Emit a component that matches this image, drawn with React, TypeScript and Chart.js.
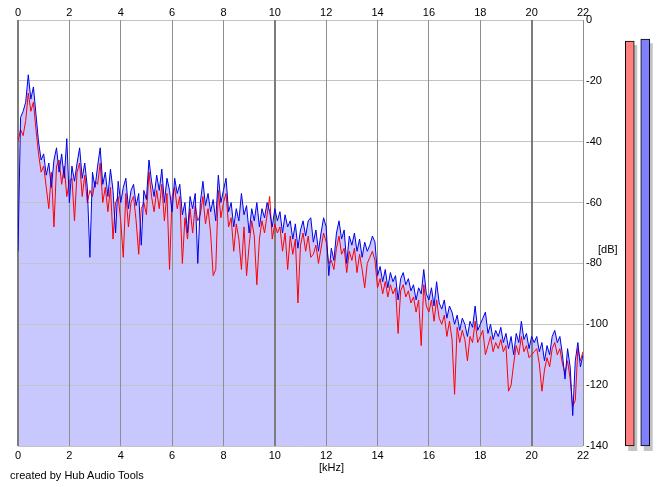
import React, { useEffect, useRef } from "react";
import { Chart, registerables } from "chart.js";

Chart.register(...registerables);

// ---- data ----
const FREQ_START_KHZ = 0;
const FREQ_STEP_KHZ = 0.1;

const xTickLabelsKHz = [0, 2, 4, 6, 8, 10, 12, 14, 16, 18, 20, 22];
const yTickLabelsDB = [0, -20, -40, -60, -80, -100, -120, -140];

// right channel (blue), dB, one value every 0.1 kHz from 0 to 22 kHz
const blueDB = [
  -76, -32, -30, -27, -18, -26, -22, -31, -40, -46,
  -44, -51, -47, -55, -46, -42, -50, -44, -52, -39,
  -60, -48, -53, -47, -42, -52, -47, -55, -78, -50,
  -55, -48, -42, -54, -50, -58, -49, -56, -70, -53,
  -60, -55, -52, -62, -56, -54, -61, -57, -74, -56,
  -59, -46, -53, -58, -51, -56, -49, -60, -52, -56,
  -63, -52, -57, -54, -64, -60, -70, -58, -62, -57,
  -80, -60, -53, -61, -57, -63, -59, -66, -51, -60,
  -56, -52, -63, -60, -68, -62, -66, -57, -64, -61,
  -70, -62, -66, -60, -68, -62, -65, -60, -63, -68,
  -62, -66, -63, -70, -64, -68, -66, -72, -67, -75,
  -69, -66, -71, -66, -65, -73, -69, -76, -70, -65,
  -68, -84, -75, -79, -70, -66, -72, -69, -80, -71,
  -74, -70, -76, -72, -78, -73, -76, -74, -71, -73,
  -84, -81, -86, -82, -88, -83, -86, -84, -92, -85,
  -83, -87, -85, -89, -87, -92, -88, -90, -82, -90,
  -92, -88, -94, -86, -93, -95, -92, -98, -94, -96,
  -100, -97, -102, -98, -100, -104, -99, -101, -94, -102,
  -100, -98, -96, -103, -100, -105, -102, -104, -101, -106,
  -103, -108, -104, -110, -103, -106, -99, -105, -103, -108,
  -104, -106, -104, -109, -106, -112, -107, -110, -104, -102,
  -106, -104, -110, -118, -108, -114, -130, -112, -106, -114,
  -110,
];

// left channel (red), dB, one value every 0.1 kHz from 0 to 22 kHz
const redDB = [
  -40, -36, -38, -33, -24, -30, -27, -36, -44, -50,
  -48, -55, -62, -50, -68, -48, -46, -54, -48, -58,
  -53, -52, -66, -50, -47, -58, -51, -60, -56, -58,
  -53, -54, -47, -60, -55, -63, -55, -72, -60, -58,
  -66, -78, -57, -68, -60, -58, -66, -77, -62, -60,
  -64, -50, -58, -63, -56, -62, -54, -66, -57, -82,
  -58, -55, -62, -58, -80, -65, -72, -62, -70, -61,
  -66, -64, -58, -67, -62, -70, -84, -82, -56, -65,
  -60, -57, -68, -65, -76, -67, -72, -82, -68, -84,
  -74, -66, -71, -87, -72, -66, -70, -64, -58, -72,
  -67, -70, -68, -76, -70, -82, -71, -77, -72, -93,
  -74, -70, -76, -71, -78, -77, -74, -80, -75, -70,
  -73, -80, -79, -82, -75, -71, -77, -75, -83, -76,
  -79, -75, -83, -77, -82, -88, -80, -78, -76, -79,
  -88, -85, -90, -86, -91, -87, -90, -88, -103, -89,
  -87, -91, -89, -93, -91, -96, -92, -107, -87, -94,
  -96, -92, -99, -92, -98, -100, -97, -104, -99, -105,
  -123, -101, -106, -102, -105, -112, -104, -106, -99, -106,
  -104, -102, -110, -107, -104, -109, -106, -108, -105, -109,
  -107, -122, -120, -113, -107, -110, -104, -109, -107, -111,
  -110, -109, -108, -113, -122, -115, -111, -114, -108, -106,
  -110, -108, -113, -116, -112, -118, -127, -125, -108, -112,
  -109,
];

// level meters (dB)
const meterChannels = ["L", "R"];
const meterLevelsDB = [-6.9, -6.3];
const meterColors = ["#ff8080", "#8080ff"];

// ---- helpers ----
const toPoints = (vals: number[]) =>
  vals.map((v, i) => ({ x: +(FREQ_START_KHZ + i * FREQ_STEP_KHZ).toFixed(2), y: v }));

const FONT = { family: "'Liberation Sans', Arial, sans-serif", size: 11 };

const gridOverFill = {
  id: "gridOverFill",
  afterDatasetDraw(chart: any, args: any) {
    if (args.index !== 0) return;
    const area = chart.chartArea;
    chart.scales.y.drawGrid(area);
    chart.scales.x.drawGrid(area);
  },
};

// grey drop shadow behind each meter bar, placed from the bar elements themselves
const meterShadow = {
  id: "meterShadow",
  beforeDatasetsDraw(chart: any) {
    const ctx = chart.ctx;
    const meta = chart.getDatasetMeta(0);
    ctx.save();
    ctx.fillStyle = "#c4c4c4";
    meta.data.forEach((bar: any) => {
      const { x, y, base, width } = bar.getProps(["x", "y", "base", "width"], true);
      const top = Math.min(y, base);
      const h = Math.abs(base - y);
      ctx.fillRect(x - width / 2 + 3, top + 4, width, h + 1);
    });
    ctx.restore();
  },
};

function Spectrum() {
  const ref = useRef<HTMLCanvasElement | null>(null);
  useEffect(() => {
    if (!ref.current) return;
    const isMajor = (v: number) => v === 0 || v === 10 || v === 20;
    const chart = new Chart(ref.current, {
      type: "line",
      data: {
        datasets: [
          {
            label: "fill",
            data: toPoints(blueDB),
            fill: "start",
            backgroundColor: "#c8c8ff",
            borderWidth: 0,
            pointRadius: 0,
            order: 3,
          },
          {
            label: "L",
            data: toPoints(redDB),
            borderColor: "#ff0000",
            borderWidth: 1,
            pointRadius: 0,
            fill: false,
            order: 2,
          },
          {
            label: "R",
            data: toPoints(blueDB),
            borderColor: "#0000e8",
            borderWidth: 1,
            pointRadius: 0,
            fill: false,
            order: 1,
          },
        ],
      },
      options: {
        animation: false,
        responsive: false,
        events: [],
        layout: { padding: { left: 18, right: 0, top: 0, bottom: 0 } },
        plugins: { legend: { display: false }, tooltip: { enabled: false } },
        scales: {
          x: {
            type: "linear",
            position: "bottom",
            min: xTickLabelsKHz[0],
            max: xTickLabelsKHz[xTickLabelsKHz.length - 1],
            afterBuildTicks: (s: any) => {
              s.ticks = xTickLabelsKHz.map((v) => ({ value: v }));
            },
            ticks: { font: FONT, color: "#000", padding: 3, maxRotation: 0, autoSkip: false },
            grid: {
              drawTicks: false,
              color: (c: any) => (isMajor(c.tick?.value) ? "#7c7c7c" : "#8e8e8e"),
              lineWidth: (c: any) => (isMajor(c.tick?.value) ? 2 : 1),
            },
            border: { display: false },
            afterFit: (s: any) => {
              s.height = 41;
            },
          },
          xTop: {
            type: "linear",
            position: "top",
            min: xTickLabelsKHz[0],
            max: xTickLabelsKHz[xTickLabelsKHz.length - 1],
            afterBuildTicks: (s: any) => {
              s.ticks = xTickLabelsKHz.map((v) => ({ value: v }));
            },
            ticks: { font: FONT, color: "#000", padding: 0, maxRotation: 0, autoSkip: false },
            grid: { display: false, drawTicks: false },
            border: { display: false },
            afterFit: (s: any) => {
              s.height = 20;
            },
          },
          y: {
            type: "linear",
            position: "right",
            min: yTickLabelsDB[yTickLabelsDB.length - 1],
            max: yTickLabelsDB[0],
            afterBuildTicks: (s: any) => {
              s.ticks = yTickLabelsDB.map((v) => ({ value: v }));
            },
            ticks: { font: FONT, color: "#000", padding: 3, autoSkip: false },
            grid: { drawTicks: false, color: "#c4c4c4", lineWidth: 1 },
            border: { display: false },
            afterFit: (s: any) => {
              s.width = 82;
            },
          },
        },
      } as any,
      plugins: [gridOverFill],
    });
    return () => chart.destroy();
  }, []);
  return (
    <canvas
      ref={ref}
      width={665}
      height={487}
      style={{ position: "absolute", left: 0, top: 0, width: 665, height: 487 }}
    />
  );
}

function Meters() {
  const ref = useRef<HTMLCanvasElement | null>(null);
  useEffect(() => {
    if (!ref.current) return;
    const chart = new Chart(ref.current, {
      type: "bar",
      data: {
        labels: meterChannels,
        datasets: [
          {
            data: meterLevelsDB.map((v) => [yTickLabelsDB[yTickLabelsDB.length - 1], v]),
            backgroundColor: meterColors,
            borderColor: "#000",
            borderWidth: 1,
            borderSkipped: false,
            barThickness: 9,
            clip: false,
          } as any,
        ],
      },
      options: {
        animation: false,
        responsive: false,
        events: [],
        layout: { padding: { left: 12, right: 12, top: 20, bottom: 41 } },
        plugins: { legend: { display: false }, tooltip: { enabled: false } },
        scales: {
          x: { display: false },
          y: {
            display: false,
            min: yTickLabelsDB[yTickLabelsDB.length - 1],
            max: yTickLabelsDB[0],
          },
        },
      } as any,
      plugins: [meterShadow],
    });
    return () => chart.destroy();
  }, []);
  return (
    <canvas
      ref={ref}
      width={55}
      height={487}
      style={{ position: "absolute", left: 610, top: 0, width: 55, height: 487 }}
    />
  );
}

const textStyle: React.CSSProperties = {
  position: "absolute",
  fontFamily: "'Liberation Sans', Arial, sans-serif",
  fontSize: 11,
  lineHeight: "13px",
  color: "#000",
  whiteSpace: "nowrap",
};

export default function App() {
  return (
    <div
      style={{
        position: "absolute",
        left: 0,
        top: 0,
        width: 665,
        height: 487,
        background: "#fff",
        overflow: "hidden",
      }}
    >
      <Spectrum />
      <Meters />
      <div style={{ ...textStyle, left: 598, top: 243 }}>[dB]</div>
      <div style={{ ...textStyle, left: 319, top: 461 }}>[kHz]</div>
      <div style={{ ...textStyle, left: 10, top: 469 }}>created by Hub Audio Tools</div>
    </div>
  );
}
